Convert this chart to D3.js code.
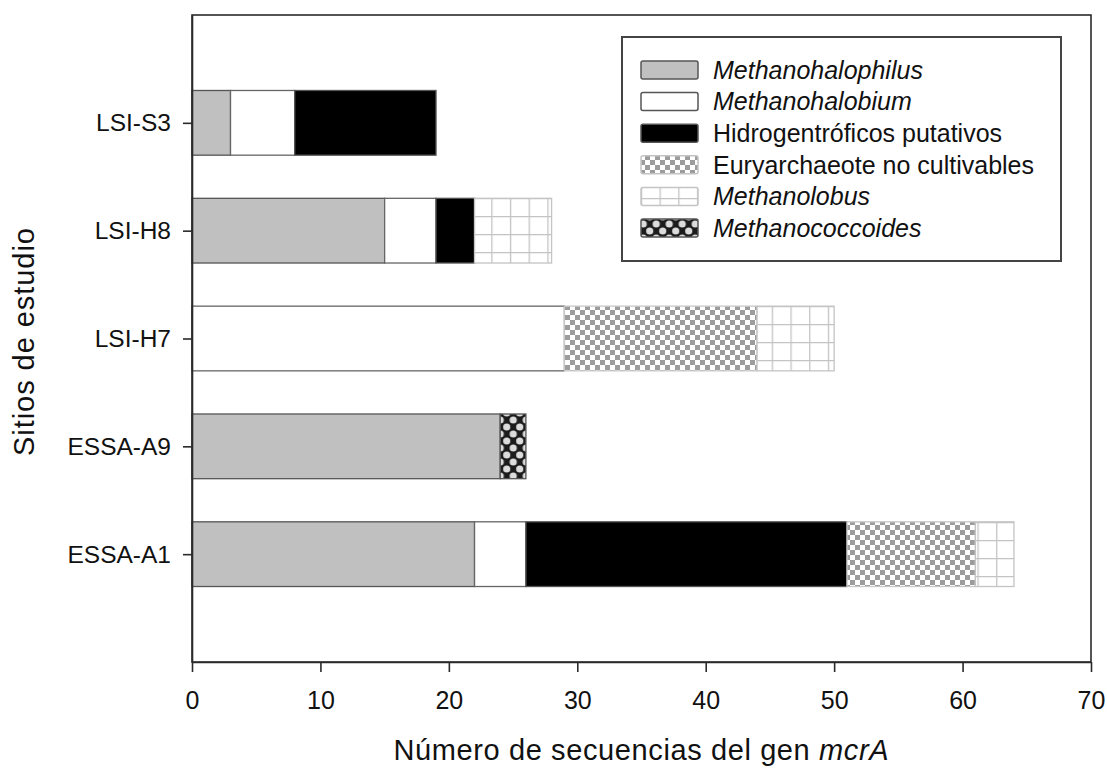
<!DOCTYPE html>
<html><head><meta charset="utf-8">
<script src="https://cdn.jsdelivr.net/npm/d3@7"></script>
<style>body{margin:0;background:#fff}svg{display:block}text{font-family:"Liberation Sans",Arial,sans-serif;fill:#111}</style>
</head><body>
<svg id="c" width="1107" height="768"></svg>
<script>
const sites = ["ESSA-A1","ESSA-A9","LSI-H7","LSI-H8","LSI-S3"];
const groups = ["Methanohalophilus","Methanohalobium","Hidrogentróficos putativos","Euryarchaeote no cultivables","Methanolobus","Methanococcoides"];
const italicGroup = [true,true,false,false,true,true];
const methanohalophilus = [22,24,0,15,3];
const methanohalobium = [4,0,29,4,5];
const hidrogentroficos = [25,0,0,3,11];
const euryarchaeote = [10,0,15,0,0];
const methanolobus = [3,0,6,6,0];
const methanococcoides = [0,2,0,0,0];
const xTicks = [0,10,20,30,40,50,60,70];
const xTitle = "Número de secuencias del gen ";
const xTitleItalic = "mcrA";
const yTitle = "Sitios de estudio";

const seriesValues = [methanohalophilus,methanohalobium,hidrogentroficos,euryarchaeote,methanolobus,methanococcoides];
const rows = sites.map((s,i)=>{const o={site:s,idx:i+1};groups.forEach((g,k)=>o[g]=seriesValues[k][i]);return o;});

const svg = d3.select("#c");
const L=192,R=1091,T=15,B=662;
const x = d3.scaleLinear().domain([0,70]).range([L,R]);
const y = d3.scaleLinear().domain([0,6]).range([B,T]);
const barH = y(0)-y(0.6);

const defs = svg.append("defs");
// checker pattern
const cs = 5;
const pc = defs.append("pattern").attr("id","checker").attr("patternUnits","userSpaceOnUse").attr("width",2*cs).attr("height",2*cs);
pc.append("rect").attr("width",2*cs).attr("height",2*cs).attr("fill","#fff");
pc.append("rect").attr("x",0).attr("y",0).attr("width",cs).attr("height",cs).attr("fill","#9c9c9c");
pc.append("rect").attr("x",cs).attr("y",cs).attr("width",cs).attr("height",cs).attr("fill","#9c9c9c");
// grid pattern
const pg = defs.append("pattern").attr("id","grid").attr("patternUnits","userSpaceOnUse").attr("width",18.7).attr("height",18).attr("x",L).attr("y",0);
pg.append("rect").attr("width",18.7).attr("height",18).attr("fill","#fff");
pg.append("path").attr("d","M0.6,0V18M0,0.6H18.7").attr("stroke","#c4c4c4").attr("stroke-width",1.4).attr("fill","none");
// diamond/dots pattern
const pd = defs.append("pattern").attr("id","dots").attr("patternUnits","userSpaceOnUse").attr("width",13).attr("height",14).attr("x",x(24)).attr("y",0);
pd.append("rect").attr("width",13).attr("height",14).attr("fill","#1c1c1c");
[[0,0],[13,0],[0,14],[13,14],[6.5,7]].forEach(([cx,cy])=>pd.append("circle").attr("cx",cx).attr("cy",cy).attr("r",3.6).attr("fill","#dcdcdc"));

const fills = ["#c0c0c0","#ffffff","#000000","url(#checker)","url(#grid)","url(#dots)"];
const strokes = ["#555","#666","#555","#c8c8c8","#c4c4c4","#555"];

const stack = d3.stack().keys(groups)(rows);

stack.forEach((layer,k)=>{
  svg.append("g").selectAll("rect").data(layer.filter(d=>d[1]-d[0]>0)).join("rect")
    .attr("x",d=>x(d[0])).attr("width",d=>x(d[1])-x(d[0]))
    .attr("y",d=>y(d.data.idx)-barH/2).attr("height",barH)
    .attr("fill",fills[k]).attr("stroke",strokes[k]).attr("stroke-width",1.3);
});

// frame
svg.append("rect").attr("x",L).attr("y",T).attr("width",R-L).attr("height",B-T).attr("fill","none").attr("stroke","#2a2a2a").attr("stroke-width",1.6);

// axes
const xAxis = svg.append("g").attr("transform",`translate(0,${B})`).call(d3.axisBottom(x).tickValues(xTicks).tickSize(10).tickPadding(19).tickSizeOuter(0));
xAxis.select(".domain").attr("stroke","#2a2a2a").attr("stroke-width",1.6);
xAxis.selectAll(".tick line").attr("stroke","#2a2a2a").attr("stroke-width",1.6);
xAxis.selectAll("text").attr("font-size",25).attr("fill","#111").attr("font-family","Liberation Sans, Arial, sans-serif");

const yAxis = svg.append("g").attr("transform",`translate(${L},0)`).call(d3.axisLeft(y).tickValues([1,2,3,4,5]).tickFormat(d=>sites[d-1]).tickSize(9).tickPadding(12).tickSizeOuter(0));
yAxis.select(".domain").attr("stroke","#2a2a2a").attr("stroke-width",1.6);
yAxis.selectAll(".tick line").attr("stroke","#2a2a2a").attr("stroke-width",1.6);
yAxis.selectAll("text").attr("font-size",24.5).attr("fill","#111").attr("font-family","Liberation Sans, Arial, sans-serif");

// titles
const xt = svg.append("text").attr("x",641).attr("y",760).attr("text-anchor","middle").attr("font-size",29)
  .attr("textLength",495).attr("lengthAdjust","spacing");
xt.append("tspan").text(xTitle);
xt.append("tspan").attr("font-style","italic").text(xTitleItalic);

svg.append("text").attr("transform","translate(34,342) rotate(-90)").attr("text-anchor","middle").attr("font-size",29)
  .attr("textLength",228).attr("lengthAdjust","spacing").text(yTitle);

// legend
const lg = svg.append("g");
lg.append("rect").attr("x",622).attr("y",37).attr("width",439).attr("height",224).attr("fill","#fff").attr("stroke","#444").attr("stroke-width",2);
const ly = d3.scaleLinear().domain([0,5]).range([70,228]);
groups.forEach((g,k)=>{
  lg.append("rect").attr("x",641).attr("y",ly(k)-9).attr("width",57).attr("height",18).attr("rx",2)
    .attr("fill",fills[k]).attr("stroke",k>=3&&k<5?"#c4c4c4":"#555").attr("stroke-width",1.5);
  lg.append("text").attr("x",713).attr("y",ly(k)+8.8).attr("font-size",25).attr("font-style",italicGroup[k]?"italic":"normal").text(g);
});
</script>
</body></html>
